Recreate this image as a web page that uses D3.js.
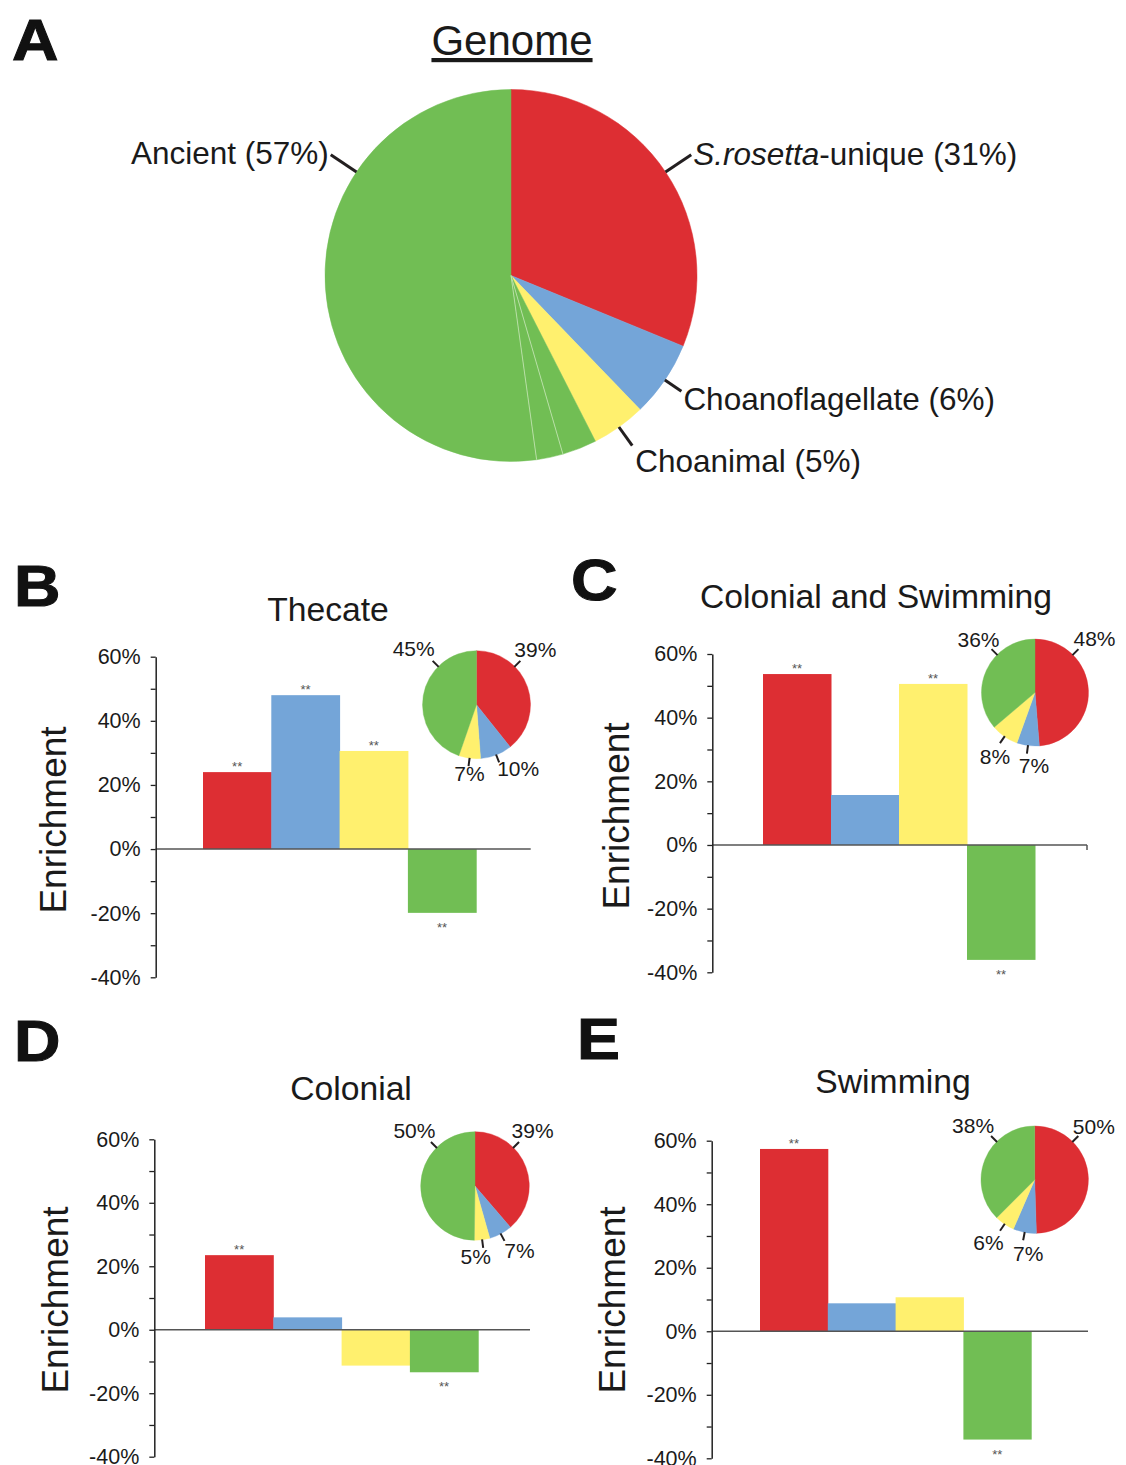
<!DOCTYPE html>
<html>
<head>
<meta charset="utf-8">
<script src="https://cdn.jsdelivr.net/npm/d3@7"></script>
<style>
  body { margin: 0; background: #fff; }
  svg text { font-family: "Liberation Sans", Arial, Helvetica, sans-serif; fill: #1a1a1a; }
</style>
</head>
<body>
<div id="fig"></div>
<script>
// ---- data ----
var categories = ["S.rosetta-unique", "Choanoflagellate", "Choanimal", "Ancient"];
var colors = ["#dd2e33", "#74a5d8", "#fff06e", "#71be54"];

// panel A, genome shares (%), ancient slice drawn as three sub-parts
var genomeShares = [31.2, 6.6, 4.7];
var ancientParts = [3.0, 2.3, 52.2];
var genomeLabels = ["(31%)", "Choanoflagellate (6%)", "Choanimal (5%)", "Ancient (57%)"];

// panels B-E
var panelTitles = ["Thecate", "Colonial and Swimming", "Colonial", "Swimming"];

var thecateEnrich = [24.0, 48.0, 30.6, -19.9];
var colSwimEnrich = [53.7, 15.7, 50.6, -36.1];
var colonialEnrich = [23.5, 3.9, -11.3, -13.4];
var swimmingEnrich = [57.4, 8.8, 10.7, -34.1];

var thecateSig = [true, true, true, true];
var colSwimSig = [true, false, true, true];
var colonialSig = [true, false, false, true];
var swimmingSig = [true, false, false, true];

var thecateShares = [39.3, 9.5, 6.5, 44.7];
var colSwimShares = [48.7, 6.8, 8.3, 36.2];
var colonialShares = [38.7, 6.9, 4.6, 49.8];
var swimmingShares = [49.5, 7.0, 6.0, 37.5];

var thecateShareLabels = ["39%", "10%", "7%", "45%"];
var colSwimShareLabels = ["48%", "7%", "8%", "36%"];
var colonialShareLabels = ["39%", "7%", "5%", "50%"];
var swimmingShareLabels = ["50%", "7%", "6%", "38%"];

var yTickValues = [-40, -30, -20, -10, 0, 10, 20, 30, 40, 50, 60];
var yTickLabelled = [-40, -20, 0, 20, 40, 60];

// ---- layout ----
var W = 1126, H = 1465;
var svg = d3.select("#fig").append("svg")
    .attr("width", W)
    .attr("height", H)
    .attr("viewBox", [0, 0, W, H]);

var FONT = "'Liberation Sans', Arial, Helvetica, sans-serif";

// panel letters (heavy, slightly wide)
var letters = [
    { t: "A", x: 12, y: 60 },
    { t: "B", x: 14, y: 606 },
    { t: "C", x: 571, y: 600 },
    { t: "D", x: 14, y: 1061 },
    { t: "E", x: 577, y: 1059 }
];
svg.selectAll("text.letter").data(letters).join("text")
    .attr("class", "letter")
    .attr("transform", d => `translate(${d.x},${d.y}) scale(1.13,1)`)
    .attr("font-size", 57).attr("font-weight", "bold")
    .style("fill", "#111")
    .style("stroke", "#111").style("stroke-width", 1)
    .text(d => d.t);

// ---- panel A ----
var genomeVals = genomeShares.concat(ancientParts);
var genomeCols = colors.slice(0, 3).concat(ancientParts.map(() => colors[3]));
var gA = svg.append("g").attr("transform", "translate(511,275.5)");
var rA = 186;
var arcA = d3.arc().innerRadius(0).outerRadius(rA);
var pieA = d3.pie().sort(null).value(d => d)(genomeVals);

gA.selectAll("path.slice").data(pieA).join("path")
    .attr("class", "slice")
    .attr("d", arcA)
    .attr("fill", (d, i) => genomeCols[i])
    .attr("stroke", (d, i) => genomeCols[i])
    .attr("stroke-width", 0.5);

// faint separators between the ancient sub-parts
gA.selectAll("line.sep").data(pieA.slice(4)).join("line")
    .attr("class", "sep")
    .attr("x1", 0).attr("y1", 0)
    .attr("x2", d => rA * Math.sin(d.startAngle))
    .attr("y2", d => -rA * Math.cos(d.startAngle))
    .attr("stroke", "#c8e6b8").attr("stroke-width", 0.8);

svg.append("text")
    .attr("x", 512).attr("y", 55)
    .attr("text-anchor", "middle")
    .attr("font-size", 42)
    .attr("text-decoration", "underline")
    .text("Genome");

// leader angles for the genome labels; ancient sits mirrored to the red one
var genomeLeader = [0, 1, 2].map(i => (pieA[i].startAngle + pieA[i].endAngle) / 2)
    .concat([2 * Math.PI - (pieA[0].startAngle + pieA[0].endAngle) / 2]);
var genomeLabelPos = [
    { len: 31, dx: 2, dy: 10, anchor: "start" },
    { len: 20, dx: 2, dy: 18.5, anchor: "start" },
    { len: 23, dx: 3, dy: 26.5, anchor: "start" },
    { len: 31, dx: -2, dy: 9, anchor: "end" }
];
genomeLeader.forEach(function (a, i) {
    var p = genomeLabelPos[i];
    var x1 = rA * Math.sin(a), y1 = -rA * Math.cos(a);
    var x2 = (rA + p.len) * Math.sin(a), y2 = -(rA + p.len) * Math.cos(a);
    gA.append("line")
        .attr("x1", x1).attr("y1", y1).attr("x2", x2).attr("y2", y2)
        .attr("stroke", "#231f20").attr("stroke-width", 3);
    var t = gA.append("text")
        .attr("x", x2 + p.dx).attr("y", y2 + p.dy)
        .attr("text-anchor", p.anchor)
        .attr("font-size", 31.5);
    if (i === 0) {
        t.append("tspan").attr("font-style", "italic").text("S.rosetta");
        t.append("tspan").text("-unique " + genomeLabels[0]);
    } else {
        t.text(genomeLabels[i]);
    }
});

// ---- panels B-E ----
var panels = [
    { enrich: thecateEnrich, sig: thecateSig, shares: thecateShares, shareLabels: thecateShareLabels,
      axisX: 155.7, yTop: 656.7, yBot: 977.3, barX: 203, barW: 68.3, baseEnd: 530.7, endTick: false,
      titleX: 328, titleY: 621, ylabX: 66, ylabY: 820,
      pie: { cx: 476.5, cy: 704.7, r: 54 },
      nudge: [[15, -11.5], [19, 6], [1, 7], [-19, -12.5]] },
    { enrich: colSwimEnrich, sig: colSwimSig, shares: colSwimShares, shareLabels: colSwimShareLabels,
      axisX: 712.3, yTop: 654, yBot: 972.3, barX: 763, barW: 68, baseEnd: 1087, endTick: true,
      titleX: 876, titleY: 608, ylabX: 629, ylabY: 816,
      pie: { cx: 1035, cy: 692.6, r: 53.5 },
      nudge: [[16, -11], [7, 11.5], [-5, 13.5], [-13, -10]] },
    { enrich: colonialEnrich, sig: colonialSig, shares: colonialShares, shareLabels: colonialShareLabels,
      axisX: 154.3, yTop: 1139.3, yBot: 1456.7, barX: 205, barW: 68.3, baseEnd: 530, endTick: false,
      titleX: 351, titleY: 1100, ylabX: 68, ylabY: 1300,
      pie: { cx: 475, cy: 1186, r: 54.3 },
      nudge: [[13.5, -11], [15, 10], [-7.5, 9], [-16.5, -11]] },
    { enrich: swimmingEnrich, sig: swimmingSig, shares: swimmingShares, shareLabels: swimmingShareLabels,
      axisX: 711.7, yTop: 1140.7, yBot: 1458.3, barX: 760, barW: 67.8, baseEnd: 1088, endTick: false,
      titleX: 893, titleY: 1093, ylabX: 625, ylabY: 1300,
      pie: { cx: 1034.7, cy: 1179.7, r: 53.7 },
      nudge: [[15.5, -10], [5, 13], [-11.5, 11.5], [-18, -11]] }
];

panels.forEach(function (p, k) {
    var g = svg.append("g");

    var y = d3.scaleLinear().domain([-40, 60]).range([p.yBot, p.yTop]);
    var x = d3.scaleBand().domain(categories).range([p.barX, p.barX + 4 * p.barW]);

    // title
    g.append("text")
        .attr("x", p.titleX).attr("y", p.titleY)
        .attr("text-anchor", "middle")
        .attr("font-size", 33.7)
        .text(panelTitles[k]);

    // y label
    g.append("text")
        .attr("transform", `translate(${p.ylabX},${p.ylabY}) rotate(-90)`)
        .attr("text-anchor", "middle")
        .attr("font-size", 37)
        .text("Enrichment");

    // bars
    var rows = categories.map((c, i) => ({ cat: c, v: p.enrich[i], sig: p.sig[i], col: colors[i] }));
    g.selectAll("rect.bar").data(rows).join("rect")
        .attr("class", "bar")
        .attr("x", d => x(d.cat))
        .attr("width", x.bandwidth() + 0.5)
        .attr("y", d => y(Math.max(0, d.v)))
        .attr("height", d => Math.abs(y(d.v) - y(0)))
        .attr("fill", d => d.col);

    // significance stars
    g.selectAll("text.star").data(rows.filter(d => d.sig)).join("text")
        .attr("class", "star")
        .attr("x", d => x(d.cat) + x.bandwidth() / 2)
        .attr("y", d => d.v >= 0 ? y(d.v) - 1 : y(d.v) + 19)
        .attr("text-anchor", "middle")
        .attr("font-size", 13)
        .style("fill", "#555")
        .text("**");

    // zero line
    g.append("line")
        .attr("x1", p.axisX).attr("x2", p.baseEnd)
        .attr("y1", y(0)).attr("y2", y(0))
        .attr("stroke", "#555").attr("stroke-width", 1.5);
    if (p.endTick) {
        g.append("line")
            .attr("x1", p.baseEnd).attr("x2", p.baseEnd)
            .attr("y1", y(0)).attr("y2", y(0) + 5)
            .attr("stroke", "#555").attr("stroke-width", 1.5);
    }

    // y axis
    var ax = g.append("g")
        .attr("transform", `translate(${p.axisX},0)`)
        .call(d3.axisLeft(y)
            .tickValues(yTickValues)
            .tickSize(5)
            .tickSizeOuter(0)
            .tickPadding(10)
            .tickFormat(d => yTickLabelled.includes(d) ? d + "%" : ""));
    ax.select(".domain").attr("stroke", "#222").attr("stroke-width", 1.5);
    ax.selectAll(".tick line").attr("stroke", "#222").attr("stroke-width", 1.3);
    ax.selectAll(".tick text")
        .attr("font-size", 21.5)
        .attr("font-family", FONT)
        .attr("fill", "#1a1a1a");

    // inset pie
    var pg = g.append("g").attr("transform", `translate(${p.pie.cx},${p.pie.cy})`);
    var pieD = d3.pie().sort(null).value(d => d)(p.shares);
    var arc = d3.arc().innerRadius(0).outerRadius(p.pie.r);
    pg.selectAll("path").data(pieD).join("path")
        .attr("d", arc)
        .attr("fill", (d, i) => colors[i])
        .attr("stroke", (d, i) => colors[i])
        .attr("stroke-width", 0.4);

    // leaders: red and green sit at +/-45 deg, the small ones at their mid-angle
    pieD.forEach(function (d, i) {
        var a = (d.startAngle + d.endAngle) / 2;
        if (i === 0) a = Math.PI / 4;
        if (i === 3) a = -Math.PI / 4;
        var r0 = p.pie.r - 0.5, r1 = p.pie.r + 8;
        var ex = r1 * Math.sin(a), ey = -r1 * Math.cos(a);
        pg.append("line")
            .attr("x1", r0 * Math.sin(a)).attr("y1", -r0 * Math.cos(a))
            .attr("x2", ex).attr("y2", ey)
            .attr("stroke", "#231f20").attr("stroke-width", 2);
        pg.append("text")
            .attr("x", ex + p.nudge[i][0]).attr("y", ey + p.nudge[i][1])
            .attr("text-anchor", "middle")
            .attr("dominant-baseline", "central")
            .attr("font-size", 21)
            .text(p.shareLabels[i]);
    });
});
</script>
</body>
</html>
